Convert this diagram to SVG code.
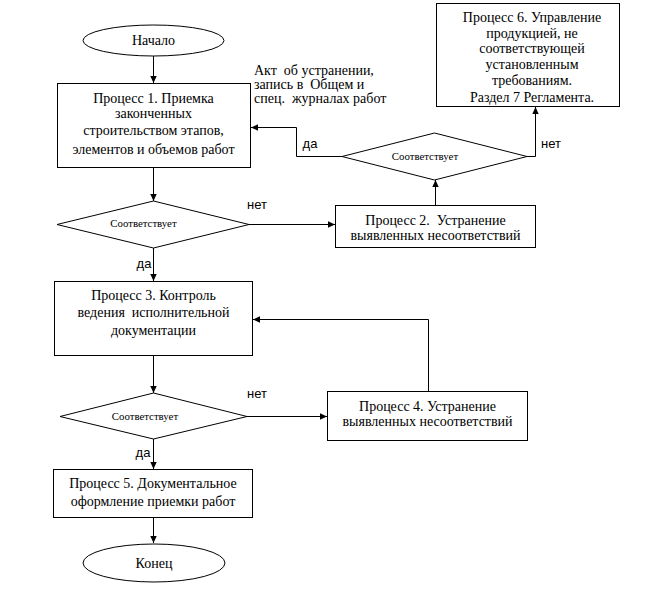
<svg xmlns="http://www.w3.org/2000/svg" width="658" height="589" viewBox="0 0 658 589">
<style>
.shape{fill:#fff;stroke:#000;stroke-width:1}
.conn{fill:none;stroke:#000;stroke-width:1}
.t{font-family:'Liberation Serif','Times New Roman','DejaVu Serif',serif;font-size:14px;fill:#000;text-anchor:middle;white-space:pre}
.tl{font-family:'Liberation Serif','Times New Roman','DejaVu Serif',serif;font-size:14px;fill:#000;white-space:pre}
.s{font-family:'Liberation Serif','Times New Roman','DejaVu Serif',serif;font-size:10.8px;fill:#000;text-anchor:middle}
.lbl{font-family:'Liberation Sans',Arial,sans-serif;font-size:13px;fill:#000;text-anchor:middle}
</style>
<defs>
<marker id="arr" markerUnits="userSpaceOnUse" markerWidth="8" markerHeight="8" refX="7" refY="4" orient="auto">
<path d="M0,0.8 L7,4 L0,7.2 Z" fill="#000"/>
</marker>
</defs>
<rect width="658" height="589" fill="#fff"/>
<g id="connectors">
<path class="conn" marker-end="url(#arr)" d="M153.5,56 V83"/>
<path class="conn" marker-end="url(#arr)" d="M153.5,168 V201"/>
<path class="conn" marker-end="url(#arr)" d="M249,224.5 H335"/>
<path class="conn" marker-end="url(#arr)" d="M435.5,205 V180"/>
<path class="conn" marker-end="url(#arr)" d="M342,156.5 H296.5 V127.5 H251"/>
<path class="conn" marker-end="url(#arr)" d="M527,156.5 H535.5 V107"/>
<path class="conn" marker-end="url(#arr)" d="M153.5,248 V281"/>
<path class="conn" marker-end="url(#arr)" d="M153.5,356 V393"/>
<path class="conn" marker-end="url(#arr)" d="M247,416.5 H327"/>
<path class="conn" marker-end="url(#arr)" d="M428.5,391 V319.5 H253"/>
<path class="conn" marker-end="url(#arr)" d="M153.5,439 V469"/>
<path class="conn" marker-end="url(#arr)" d="M153.5,518 V543"/>
</g>
<g id="labels">
<text class="lbl" x="257" y="209">нет</text>
<text class="lbl" x="310" y="148">да</text>
<text class="lbl" x="551" y="148">нет</text>
<text class="lbl" x="144" y="268">да</text>
<text class="lbl" x="257" y="398">нет</text>
<text class="lbl" x="143" y="457">да</text>
<text class="tl" x="254" y="75">Акт  об устранении,</text>
<text class="tl" x="254" y="89">запись в  Общем и</text>
<text class="tl" x="254" y="103">спец.  журналах работ</text>
</g>
<g id="start">
<ellipse class="shape" cx="153.5" cy="40.5" rx="70.5" ry="15.5"/>
<text class="t" x="153.5" y="45">Начало</text>
</g>
<g id="process1">
<rect class="shape" x="57.5" y="83.5" width="193" height="84"/>
<text class="t" x="153.5" y="103">Процесс 1. Приемка</text>
<text class="t" x="153.5" y="118">законченных</text>
<text class="t" x="153.5" y="135">строительством этапов,</text>
<text class="t" x="153.5" y="154">элементов и объемов работ</text>
</g>
<g id="decision1">
<polygon class="shape" points="153.5,201 249,224.5 153.5,248 57,224.5"/>
<text class="s" x="143.5" y="227">Соответствует</text>
</g>
<g id="process2">
<rect class="shape" x="335.5" y="205.5" width="200" height="42"/>
<text class="t" x="435.5" y="225">Процесс 2.  Устранение</text>
<text class="t" x="435.5" y="240">выявленных несоответствий</text>
</g>
<g id="decision2">
<polygon class="shape" points="434.5,133 527,156.5 434.5,180 342,156.5"/>
<text class="s" x="425" y="160">Соответствует</text>
</g>
<g id="process6">
<rect class="shape" x="436.5" y="3.5" width="183" height="103"/>
<text class="t" x="532" y="22">Процесс 6. Управление</text>
<text class="t" x="532" y="38">продукцией, не</text>
<text class="t" x="532" y="53">соответствующей</text>
<text class="t" x="532" y="69">установленным</text>
<text class="t" x="532" y="85">требованиям.</text>
<text class="t" x="532" y="102">Раздел 7 Регламента.</text>
</g>
<g id="process3">
<rect class="shape" x="54.5" y="281.5" width="198" height="74"/>
<text class="t" x="153.5" y="300">Процесс 3. Контроль</text>
<text class="t" x="153.5" y="317">ведения  исполнительной</text>
<text class="t" x="153.5" y="335">документации</text>
</g>
<g id="decision3">
<polygon class="shape" points="153.5,393 247,416.5 153.5,439 60,416.5"/>
<text class="s" x="145" y="420">Соответствует</text>
</g>
<g id="process4">
<rect class="shape" x="327.5" y="391.5" width="200" height="49"/>
<text class="t" x="427.5" y="411">Процесс 4. Устранение</text>
<text class="t" x="427.5" y="426">выявленных несоответствий</text>
</g>
<g id="process5">
<rect class="shape" x="53.5" y="469.5" width="199" height="48"/>
<text class="t" x="153" y="488">Процесс 5. Документальное</text>
<text class="t" x="153" y="506">оформление приемки работ</text>
</g>
<g id="end">
<ellipse class="shape" cx="154" cy="563" rx="71" ry="19"/>
<text class="t" x="154" y="568">Конец</text>
</g>
</svg>
